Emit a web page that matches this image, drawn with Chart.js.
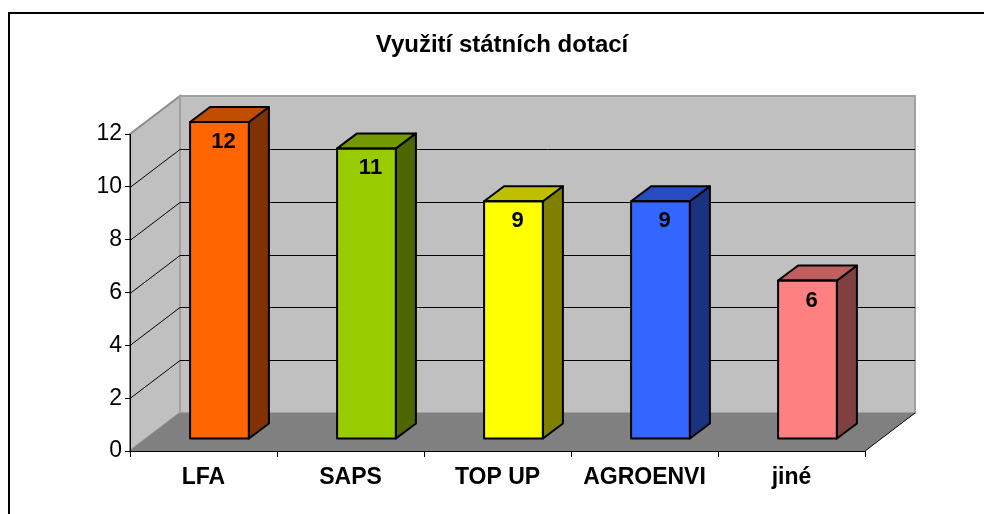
<!DOCTYPE html>
<html>
<head>
<meta charset="utf-8">
<title>Využití státních dotací</title>
<script src="https://cdn.jsdelivr.net/npm/chart.js@4/dist/chart.umd.min.js"></script>
<style>
  html, body { margin: 0; padding: 0; background: #fff; }
  #wrap { position: relative; width: 984px; height: 514px; }
</style>
</head>
<body>
<div id="wrap"><canvas id="chart"></canvas></div>
<script>
// --- data ---
const categories = ['LFA', 'SAPS', 'TOP UP', 'AGROENVI', 'jiné'];
const values     = [12, 11, 9, 9, 6];
const yTicks     = [0, 2, 4, 6, 8, 10, 12];
const chartTitle = 'Využití státních dotací';

// face colours per bar (front / side / top)
const frontColors = ['#FF6600', '#99CC00', '#FFFF00', '#3366FF', '#FF8080'];
const sideColors  = ['#803300', '#4D6600', '#808000', '#1A3380', '#804040'];
const topColors   = ['#BF4C00', '#739900', '#BFBF00', '#264CBF', '#BF6060'];

const FONT = "'Liberation Sans', Arial, sans-serif";

// depth of the wall box and of each bar (oblique projection)
const WALL = { dx: 50, dy: -38 };
const BAR  = { dx: 20, dy: -15, shiftX: 16, shiftY: -12 };

function poly(ctx, pts, fill, stroke, lw) {
  ctx.beginPath();
  pts.forEach(([x, y], i) => i ? ctx.lineTo(x, y) : ctx.moveTo(x, y));
  ctx.closePath();
  if (fill) { ctx.fillStyle = fill; ctx.fill(); }
  if (stroke) { ctx.strokeStyle = stroke; ctx.lineWidth = lw || 1; ctx.stroke(); }
}

const box3d = {
  id: 'box3d',
  beforeDraw(chart) {
    const { ctx, chartArea: a, scales: { y } } = chart;
    const { dx, dy } = WALL;
    ctx.save();

    // outer frame (only left and top edges fall inside the picture)
    ctx.strokeStyle = '#000';
    ctx.lineWidth = 2;
    ctx.beginPath();
    ctx.moveTo(9, 600); ctx.lineTo(9, 13); ctx.lineTo(1000, 13);
    ctx.stroke();

    // title
    ctx.fillStyle = '#000';
    ctx.font = 'bold 24px ' + FONT;
    ctx.textAlign = 'center';
    ctx.textBaseline = 'middle';
    ctx.fillText(chartTitle, 502, 45);

    // side wall + back wall
    poly(ctx, [[a.left, a.bottom], [a.left, a.top], [a.left + dx, a.top + dy], [a.left + dx, a.bottom + dy]], '#C0C0C0', '#8C8C8C', 2);
    poly(ctx, [[a.left + dx, a.top + dy], [a.right + dx, a.top + dy], [a.right + dx, a.bottom + dy], [a.left + dx, a.bottom + dy]], '#C0C0C0', '#A0A0A0', 2);

    // gridlines running along the side wall and across the back wall
    ctx.strokeStyle = '#000';
    ctx.lineWidth = 1;
    yTicks.forEach(v => {
      if (v === 0 || v === y.max) return;
      const py = Math.round(y.getPixelForValue(v)) + 0.5;
      ctx.beginPath();
      ctx.moveTo(a.left, py);
      ctx.lineTo(a.left + dx, py + dy);
      ctx.lineTo(a.right + dx, py + dy);
      ctx.stroke();
    });

    // floor
    poly(ctx, [[a.left, a.bottom], [a.right, a.bottom], [a.right + dx, a.bottom + dy], [a.left + dx, a.bottom + dy]], '#808080');
    ctx.strokeStyle = '#000';
    ctx.lineWidth = 1;
    ctx.beginPath();
    ctx.moveTo(a.right, a.bottom); ctx.lineTo(a.right + dx, a.bottom + dy);
    ctx.stroke();
    ctx.restore();
  },
  beforeDatasetsDraw(chart) {
    // bars stand part-way back on the floor
    chart.ctx.save();
    chart.ctx.translate(BAR.shiftX, BAR.shiftY);
  },
  afterDatasetsDraw(chart) {
    const ctx = chart.ctx;
    const { dx, dy } = BAR;
    chart.getDatasetMeta(0).data.forEach((bar, i) => {
      const x1 = bar.x - bar.width / 2, x2 = bar.x + bar.width / 2;
      const top = bar.y, bottom = bar.base;
      ctx.lineJoin = 'round';
      poly(ctx, [[x2, top], [x2 + dx, top + dy], [x2 + dx, bottom + dy], [x2, bottom]], sideColors[i], '#000', 2);
      poly(ctx, [[x1, top], [x1 + dx, top + dy], [x2 + dx, top + dy], [x2, top]], topColors[i], '#000', 2);
      ctx.strokeStyle = '#000';
      ctx.lineWidth = 2;
      ctx.strokeRect(x1, top, x2 - x1, bottom - top);

      ctx.fillStyle = '#000';
      ctx.font = 'bold 22px ' + FONT;
      ctx.textAlign = 'center';
      ctx.textBaseline = 'middle';
      ctx.fillText(String(values[i]), bar.x + 4, top + 20);
    });
    ctx.restore();
  }
};

new Chart(document.getElementById('chart'), {
  type: 'bar',
  data: {
    labels: categories,
    datasets: [{
      data: values,
      backgroundColor: frontColors,
      borderColor: '#000',
      borderWidth: 0,
      barPercentage: 0.4,
      categoryPercentage: 1.0
    }]
  },
  options: {
    responsive: true,
    maintainAspectRatio: false,
    animation: false,
    layout: { padding: { left: 0, right: 119, top: 134, bottom: 0 } },
    plugins: {
      legend: { display: false },
      title: { display: false },
      tooltip: { enabled: false }
    },
    scales: {
      x: {
        grid: { drawOnChartArea: false, drawTicks: true, tickLength: 6, color: '#000', offset: true },
        border: { display: true, color: '#000', width: 1 },
        ticks: { color: '#000', padding: 7, font: { family: FONT, size: 23, weight: 'bold' }, maxRotation: 0 },
        afterFit(scale) { scale.height = 63; }
      },
      y: {
        min: 0,
        max: 12,
        afterBuildTicks(scale) { scale.ticks = yTicks.map(v => ({ value: v })); },
        grid: { drawOnChartArea: false, drawTicks: true, tickLength: 5, color: '#000' },
        border: { display: true, color: '#000', width: 1 },
        ticks: { color: '#000', padding: 3, font: { family: FONT, size: 23 } },
        afterFit(scale) { scale.width = 130; }
      }
    }
  },
  plugins: [box3d]
});
</script>
</body>
</html>
